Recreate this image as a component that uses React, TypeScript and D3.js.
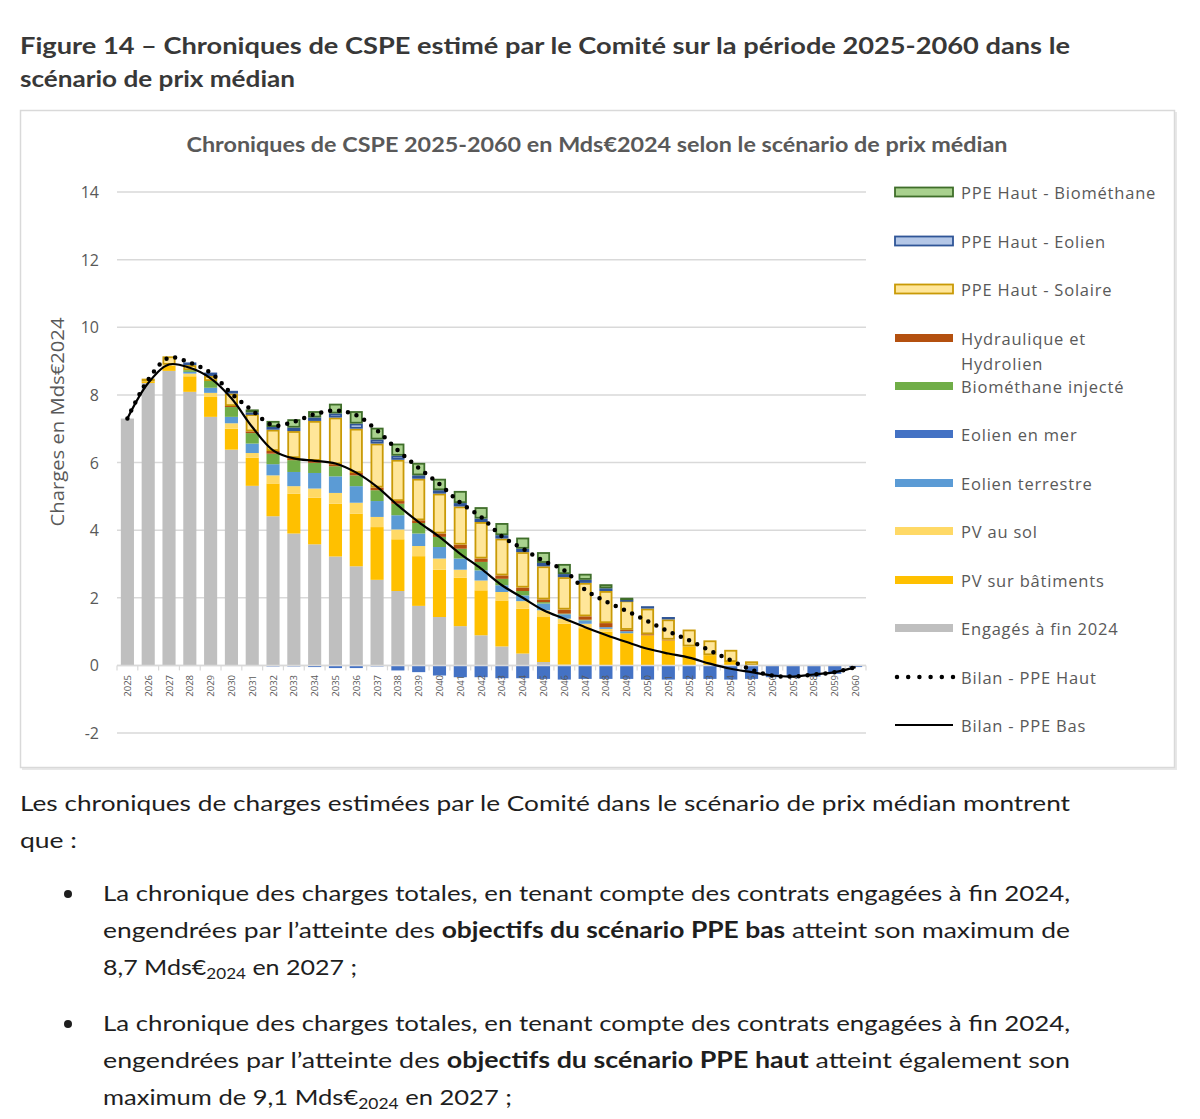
import React from "react";
import * as d3 from "d3";

const years = [2025, 2026, 2027, 2028, 2029, 2030, 2031, 2032, 2033, 2034, 2035, 2036, 2037, 2038, 2039, 2040, 2041, 2042, 2043, 2044, 2045, 2046, 2047, 2048, 2049, 2050, 2051, 2052, 2053, 2054, 2055, 2056, 2057, 2058, 2059, 2060];

const engages = [7.30, 8.35, 8.71, 8.09, 7.35, 6.38, 5.31, 4.41, 3.90, 3.58, 3.22, 2.93, 2.53, 2.20, 1.76, 1.43, 1.16, 0.89, 0.56, 0.35, 0.10, 0.02, 0, 0, 0, 0, 0, 0, 0, 0, 0, 0, 0, 0, 0, 0];
const pvBatiments = [0, 0.05, 0.15, 0.46, 0.59, 0.62, 0.83, 0.97, 1.18, 1.38, 1.56, 1.56, 1.56, 1.53, 1.47, 1.40, 1.43, 1.33, 1.36, 1.33, 1.33, 1.21, 1.10, 1.00, 0.95, 0.89, 0.74, 0.56, 0.30, 0.10, 0, 0, 0, 0, 0, 0];
const pvSol = [0, 0, 0.03, 0.08, 0.12, 0.16, 0.14, 0.24, 0.22, 0.27, 0.32, 0.32, 0.30, 0.29, 0.30, 0.33, 0.24, 0.29, 0.25, 0.22, 0.20, 0.15, 0.13, 0.08, 0, 0, 0, 0, 0, 0, 0, 0, 0, 0, 0, 0];
const eolienTerrestre = [0, 0, 0, 0.05, 0.15, 0.19, 0.28, 0.33, 0.42, 0.46, 0.49, 0.49, 0.47, 0.42, 0.37, 0.34, 0.33, 0.30, 0.20, 0.17, 0.20, 0.13, 0.10, 0.05, 0.06, 0, 0, 0, 0, 0, 0, 0, 0, 0, 0, 0];
const eolienMer = [0, 0, 0, 0, 0, 0, 0, -0.03, -0.03, -0.05, -0.08, -0.08, -0.03, -0.15, -0.20, -0.30, -0.35, -0.35, -0.38, -0.38, -0.40, -0.42, -0.40, -0.40, -0.40, -0.42, -0.42, -0.40, -0.40, -0.42, -0.40, -0.35, -0.35, -0.33, -0.25, -0.05];
const biomethane = [0, 0, 0, 0.05, 0.20, 0.29, 0.31, 0.31, 0.35, 0.30, 0.30, 0.32, 0.32, 0.34, 0.31, 0.30, 0.29, 0.25, 0.19, 0.13, 0.04, 0.02, 0.02, 0, 0, 0, 0, 0, 0, 0, 0, 0, 0, 0, 0, 0];
const hydraulique = [0, 0, 0, 0, 0, 0.03, 0.05, 0.08, 0.06, 0.06, 0.06, 0.07, 0.08, 0.08, 0.08, 0.10, 0.12, 0.10, 0.10, 0.10, 0.08, 0.12, 0.10, 0.12, 0.04, 0.03, 0.02, 0, 0, 0, 0, 0, 0, 0, 0, 0];
const ppeHautSolaire = [0, 0.08, 0.25, 0.15, 0.15, 0.37, 0.51, 0.63, 0.80, 1.18, 1.38, 1.31, 1.30, 1.22, 1.23, 1.18, 1.13, 1.08, 1.09, 1.05, 0.98, 0.96, 0.99, 0.95, 0.87, 0.76, 0.60, 0.50, 0.44, 0.36, 0.12, 0, 0, 0, 0, 0];
const ppeHautEolien = [0, 0, 0, 0.08, 0.10, 0.08, 0.05, 0.08, 0.10, 0.10, 0.12, 0.15, 0.12, 0.12, 0.10, 0.10, 0.10, 0.10, 0.10, 0.10, 0.10, 0.09, 0.09, 0.08, 0.03, 0.07, 0.07, 0, 0, 0, 0, 0, 0, 0, 0, 0];
const ppeHautBiomethane = [0, 0, 0, 0, 0, 0, 0.09, 0.18, 0.25, 0.19, 0.29, 0.37, 0.35, 0.36, 0.37, 0.34, 0.36, 0.34, 0.36, 0.33, 0.32, 0.30, 0.18, 0.12, 0.05, 0, 0, 0, 0, 0, 0, 0, 0, 0, 0, 0];

const bilanPpeBas = [7.30, 8.35, 8.90, 8.80, 8.49, 7.90, 7.05, 6.36, 6.12, 6.05, 5.97, 5.70, 5.28, 4.73, 4.24, 3.80, 3.30, 2.86, 2.37, 2.00, 1.63, 1.38, 1.13, 0.90, 0.69, 0.49, 0.35, 0.23, 0.05, -0.10, -0.20, -0.30, -0.33, -0.27, -0.20, -0.05];
const bilanPpeHaut = [7.30, 8.45, 9.10, 8.95, 8.65, 8.04, 7.54, 7.10, 7.20, 7.43, 7.54, 7.40, 6.95, 6.36, 5.84, 5.36, 4.81, 4.39, 3.82, 3.45, 3.09, 2.81, 2.24, 1.89, 1.61, 1.31, 1.01, 0.74, 0.44, 0.15, -0.13, -0.30, -0.33, -0.27, -0.20, -0.05];

const yTicks = [-2, 0, 2, 4, 6, 8, 10, 12, 14];

const seriesKeys = ["engages", "pvBat", "pvSol", "eolTerre", "eolMer", "bio", "hydro", "ppeSol", "ppeEol", "ppeBio"];
const seriesLabels: Record<string, string> = {
  engages: "Engagés à fin 2024",
  pvBat: "PV sur bâtiments",
  pvSol: "PV au sol",
  eolTerre: "Eolien terrestre",
  eolMer: "Eolien en mer",
  bio: "Biométhane injecté",
  hydro: "Hydraulique et Hydrolien",
  ppeSol: "PPE Haut - Solaire",
  ppeEol: "PPE Haut - Eolien",
  ppeBio: "PPE Haut - Biométhane",
};
const fills: Record<string, string> = {
  engages: "#bfbfbf",
  pvBat: "#ffc000",
  pvSol: "#ffd966",
  eolTerre: "#5b9bd5",
  eolMer: "#4472c4",
  bio: "#70ad47",
  hydro: "#b4500f",
  ppeSol: "#ffe699",
  ppeEol: "#b4c7e7",
  ppeBio: "#a9d18e",
};
const strokes: Record<string, string | null> = {
  ppeSol: "#c99a06",
  ppeEol: "#2f5597",
  ppeBio: "#3f6e2a",
};

const table = years.map((y, i) => ({
  year: y,
  engages: engages[i],
  pvBat: pvBatiments[i],
  pvSol: pvSol[i],
  eolTerre: eolienTerrestre[i],
  eolMer: eolienMer[i],
  bio: biomethane[i],
  hydro: hydraulique[i],
  ppeSol: ppeHautSolaire[i],
  ppeEol: ppeHautEolien[i],
  ppeBio: ppeHautBiomethane[i],
  bas: bilanPpeBas[i],
  haut: bilanPpeHaut[i],
}));

const legendOrder = ["ppeBio", "ppeEol", "ppeSol", "hydro", "bio", "eolMer", "eolTerre", "pvSol", "pvBat", "engages"];

const CHART_FONT = "'Open Sans', 'DejaVu Sans', sans-serif";
const DOC_FONT = "Lato, 'Open Sans', sans-serif";

export default function App() {
  const x = d3.scaleBand<number>().domain(years).range([117, 866]).paddingInner(0.37).paddingOuter(0.185);
  const y = d3.scaleLinear().domain([-2, 14]).range([733, 192]);
  const bw = x.bandwidth();
  const stack = d3.stack<any>().keys(seriesKeys).offset(d3.stackOffsetDiverging);
  const stacked = stack(table as any);

  const line = d3
    .line<any>()
    .x((d) => (x(d.year) as number) + bw / 2)
    .curve(d3.curveCatmullRom.alpha(0.5));
  const basPath = line.y((d) => y(d.bas))(table) as string;
  const hautPath = line.y((d) => y(d.haut))(table) as string;

  const step = x.step();
  const y0 = y(0);

  const legendRowsY = [192, 241, 289, 338, 386, 434, 483, 531, 580, 628];

  return (
    <svg width={1200} height={1119} style={{ position: "absolute", left: 0, top: 0, background: "#fff" }}>
      <rect x={0} y={0} width={1200} height={1119} fill="#fff" />
      {/* Caption */}
      <g fontFamily={DOC_FONT} fontWeight={700} fontSize={23} fill="#383838">
        <text x={20} y={54} textLength={1050} lengthAdjust="spacingAndGlyphs">
          Figure 14 – Chroniques de CSPE estimé par le Comité sur la période 2025-2060 dans le
        </text>
        <text x={20} y={87} textLength={275} lengthAdjust="spacingAndGlyphs">
          scénario de prix médian
        </text>
      </g>

      {/* Chart frame */}
      <rect x={22} y={112} width={1155} height={658} fill="#e8e8e8" />
      <rect x={20.5} y={110.5} width={1154} height={657} fill="#fff" stroke="#d9d9d9" strokeWidth={1.5} />

      <text x={597} y={152} textAnchor="middle" fontFamily={DOC_FONT} fontWeight={700} fontSize={20} fill="#595959" textLength={821} lengthAdjust="spacingAndGlyphs">
        Chroniques de CSPE 2025-2060 en Mds€2024 selon le scénario de prix médian
      </text>

      {/* gridlines */}
      {yTicks.map((t) => (
        <line key={t} x1={117} x2={866} y1={y(t)} y2={y(t)} stroke="#d9d9d9" strokeWidth={1.5} />
      ))}
      {yTicks.map((t) => (
        <text key={"l" + t} x={99} y={y(t)} textAnchor="end" dominantBaseline="central" fontFamily={CHART_FONT} fontSize={16} fill="#595959">
          {t}
        </text>
      ))}
      <text transform={`translate(57,${422}) rotate(-90)`} textAnchor="middle" dominantBaseline="central" fontFamily={CHART_FONT} fontSize={18} fill="#595959" textLength={209} lengthAdjust="spacingAndGlyphs">
        Charges en Mds€2024
      </text>

      {/* bars */}
      {stacked.map((s) => (
        <g key={s.key}>
          {s.map((d: any, i: number) => {
            const v0 = d[0];
            const v1 = d[1];
            if (Math.abs(v1 - v0) < 1e-6) return null;
            const top = y(Math.max(v0, v1));
            const bot = y(Math.min(v0, v1));
            const xx = x(years[i]) as number;
            const st = strokes[s.key];
            if (st) {
              return (
                <rect key={i} x={xx + 0.9} y={top + 0.9} width={bw - 1.8} height={Math.max(bot - top - 1.8, 0.5)} fill={fills[s.key]} stroke={st} strokeWidth={1.8} />
              );
            }
            return <rect key={i} x={xx} y={top} width={bw} height={bot - top} fill={fills[s.key]} />;
          })}
        </g>
      ))}

      {/* x axis */}
      <line x1={117} x2={866} y1={y0} y2={y0} stroke="#d9d9d9" strokeWidth={1.5} />
      {d3.range(years.length + 1).map((k) => (
        <line key={k} x1={117 + k * step} x2={117 + k * step} y1={y0} y2={y0 + 5} stroke="#d9d9d9" strokeWidth={1.2} />
      ))}
      {years.map((yr) => (
        <text
          key={yr}
          transform={`translate(${(x(yr) as number) + bw / 2},${675}) rotate(-90)`}
          textAnchor="end"
          dominantBaseline="central"
          fontFamily={CHART_FONT}
          fontSize={9.5}
          fill="#595959"
        >
          {yr}
        </text>
      ))}

      {/* lines */}
      <path d={basPath} fill="none" stroke="#000" strokeWidth={2.2} />
      <path d={hautPath} fill="none" stroke="#000" strokeWidth={4.5} strokeDasharray="0 9" strokeLinecap="round" />

      {/* legend */}
      <g fontFamily={CHART_FONT} fontSize={16.5} letterSpacing={0.8} fill="#595959">
        {legendOrder.map((k, i) => {
          const cy = legendRowsY[i];
          const st = strokes[k];
          const label = seriesLabels[k];
          return (
            <g key={k}>
              {st ? (
                <rect x={895} y={cy - 4.5} width={58} height={9} fill={fills[k]} stroke={st} strokeWidth={1.8} />
              ) : (
                <rect x={895} y={cy - 4} width={58} height={8} fill={fills[k]} />
              )}
              {k === "hydro" ? (
                <>
                  <text x={961} y={cy} dominantBaseline="central">Hydraulique et</text>
                  <text x={961} y={cy + 25} dominantBaseline="central">Hydrolien</text>
                </>
              ) : (
                <text x={961} y={cy} dominantBaseline="central">{label}</text>
              )}
            </g>
          );
        })}
        <line x1={897} x2={953} y1={677} y2={677} stroke="#000" strokeWidth={4.5} strokeDasharray="0 11.2" strokeLinecap="round" />
        <text x={961} y={677} dominantBaseline="central">Bilan - PPE Haut</text>
        <line x1={895} x2={953} y1={725} y2={725} stroke="#000" strokeWidth={2.2} />
        <text x={961} y={725} dominantBaseline="central">Bilan - PPE Bas</text>
      </g>

      {/* Body text */}
      <g fontFamily={DOC_FONT} fontSize={22} fill="#1e1e1e">
        <text x={20} y={811} textLength={1050} lengthAdjust="spacingAndGlyphs">
          Les chroniques de charges estimées par le Comité dans le scénario de prix médian montrent
        </text>
        <text x={20} y={848} textLength={57} lengthAdjust="spacingAndGlyphs">que :</text>

        <circle cx={68} cy={894} r={4} fill="#1e1e1e" />
        <text x={103} y={901} textLength={967} lengthAdjust="spacingAndGlyphs">
          La chronique des charges totales, en tenant compte des contrats engagées à fin 2024,
        </text>
        <text x={103} y={938} textLength={967} lengthAdjust="spacingAndGlyphs">
          engendrées par l’atteinte des <tspan fontWeight={700}>objectifs du scénario PPE bas</tspan> atteint son maximum de
        </text>
        <text x={103} y={975} textLength={254} lengthAdjust="spacingAndGlyphs">
          8,7 Mds€<tspan fontSize={15} dy={4}>2024</tspan>
          <tspan dy={-4}> en 2027 ;</tspan>
        </text>

        <circle cx={68} cy={1024} r={4} fill="#1e1e1e" />
        <text x={103} y={1031} textLength={967} lengthAdjust="spacingAndGlyphs">
          La chronique des charges totales, en tenant compte des contrats engagées à fin 2024,
        </text>
        <text x={103} y={1068} textLength={967} lengthAdjust="spacingAndGlyphs">
          engendrées par l’atteinte des <tspan fontWeight={700}>objectifs du scénario PPE haut</tspan> atteint également son
        </text>
        <text x={103} y={1105} textLength={409} lengthAdjust="spacingAndGlyphs">
          maximum de 9,1 Mds€<tspan fontSize={15} dy={4}>2024</tspan>
          <tspan dy={-4}> en 2027 ;</tspan>
        </text>
      </g>
    </svg>
  );
}
